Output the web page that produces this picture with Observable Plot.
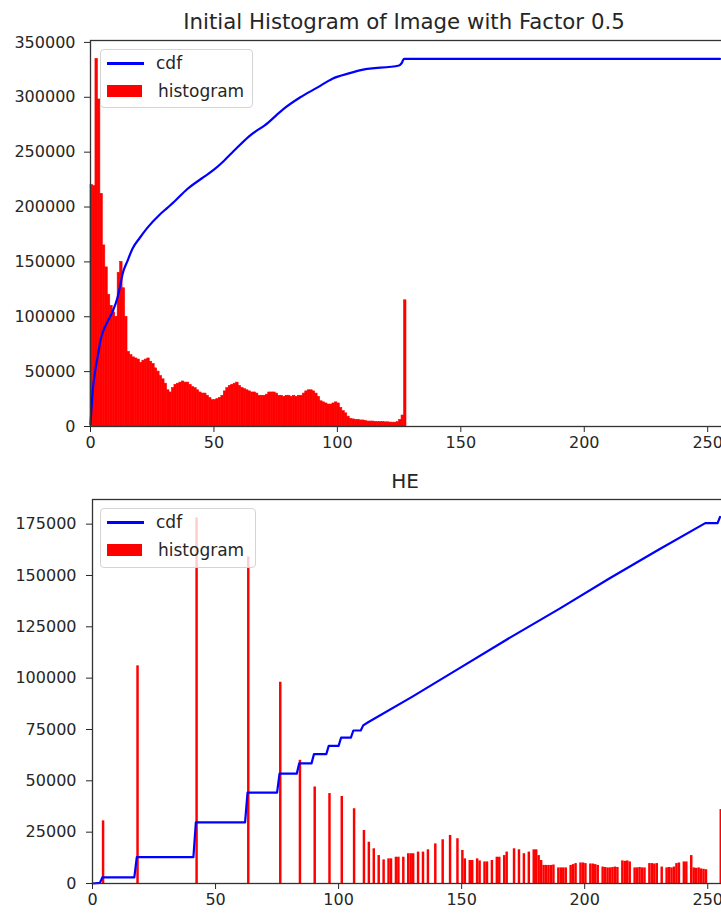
<!DOCTYPE html>
<html>
<head>
<meta charset="utf-8">
<script src="https://cdn.jsdelivr.net/npm/d3@7"></script>
<script src="https://cdn.jsdelivr.net/npm/@observablehq/plot@0.6"></script>
<style>
  body { margin: 0; background: #fff; font-family: "DejaVu Sans", sans-serif; }
  #wrap { position: relative; width: 721px; height: 914px; overflow: hidden; background: #fff; }
  .panel { position: absolute; left: 0; }
  .title { position: absolute; color: #262626; white-space: nowrap; transform: translate(-50%, -50%); }
  .legend { position: absolute; border: 1px solid #d4d4d4; border-radius: 4px; background: rgba(255,255,255,0.8); font-size: 17px; color: #262626; }
  .legend .ln { position: absolute; height: 2.5px; background: #0000ff; }
  .legend .pt { position: absolute; background: #ff0000; }
  .legend .tx { position: absolute; white-space: nowrap; transform: translateY(-50%); }
</style>
</head>
<body>
<div id="wrap"></div>
<script>
// ---------- data: top panel (initial histogram, bins 0..127) ----------
const topHist = [
  220000, 219000, 335000, 298000, 212000, 165000, 145000, 120000, 110000, 104000,
  100000, 140000, 150000, 126000, 100000, 68000, 65000, 63000, 62000, 61000,
  58000, 60000, 61000, 62000, 59000, 57000, 53000, 50000, 46000, 43000,
  39000, 33000, 31000, 35000, 38000, 39000, 40000, 41000, 40000, 40000,
  38000, 36000, 35000, 33000, 31000, 30000, 30000, 28000, 26000, 24000,
  24000, 25000, 26000, 28000, 32000, 35000, 37000, 38000, 39000, 40000,
  37000, 35000, 34000, 33000, 32000, 31000, 31000, 30000, 28000, 28000,
  28000, 29000, 31000, 31000, 31000, 30000, 28000, 28000, 27000, 28000,
  28000, 27000, 28000, 27000, 28000, 28000, 30000, 32000, 33000, 33000,
  32000, 30000, 27000, 23000, 22000, 21000, 20000, 20000, 21000, 22000,
  21000, 17000, 14000, 12000, 9000, 7000, 6500, 6000, 6000, 5500,
  5500, 5000, 4500, 4500, 4500, 4200, 4000, 4000, 4000, 3800,
  3800, 3600, 3500, 3500, 4000, 6000, 10000, 115000
];
const topCdfX = [0, 1, 2, 3, 4, 5, 7, 9, 11, 12, 13, 15, 17, 20, 23, 28, 31, 34, 39, 45, 50, 54, 58, 64, 72, 78, 85, 92, 98, 105, 110, 125, 126, 127, 255];
const topCdfY = [2000, 35000, 52000, 65000, 78000, 86000, 96000, 105000, 118000, 128000, 139000, 151000, 162000, 172000, 181000, 193000, 199000, 205000, 216000, 226000, 234000, 242000, 251000, 264000, 277000, 289000, 300000, 309000, 317000, 322000, 325000, 329000, 331000, 335000, 335000];
const topYTicks = [0, 50000, 100000, 150000, 200000, 250000, 300000, 350000];

// ---------- data: bottom panel (HE) ----------
const heBins = [
  4, 18, 42, 63, 76, 84, 90, 96, 101, 106,
  110, 112, 114, 116, 118, 120, 121, 123, 124, 126,
  128, 129, 130, 132, 134, 136, 139, 142, 145, 148,
  150, 151, 153, 154, 156, 157, 159, 160, 162, 164,
  165, 167, 168, 171, 173, 175, 177, 179, 180, 181,
  182, 183, 184, 185, 186, 187, 189, 190, 191, 192,
  194, 195, 196, 198, 199, 200, 202, 203, 204, 205,
  207, 208, 209, 210, 211, 212, 213, 215, 216, 217,
  218, 220, 221, 222, 223, 224, 226, 227, 228, 229,
  231, 233, 234, 235, 236, 237, 238, 240, 241, 243,
  244, 245, 246, 247, 248, 249, 255
];
const heCounts = [
  30500, 106000, 178000, 159000, 98000, 60000, 47000, 43800, 42400, 36400,
  25800, 20100, 16900, 13600, 11500, 12000, 12000, 12800, 12800, 12800,
  14500, 14500, 14500, 15300, 15300, 16400, 19300, 21300, 23400, 21800,
  16100, 12000, 11200, 11200, 12000, 11000, 10500, 10500, 11200, 12800,
  12800, 13600, 15300, 16900, 16400, 14500, 15300, 16400, 16400, 13600,
  11200, 8800, 8800, 8800, 8800, 9000, 7600, 7600, 7600, 7600,
  8800, 9200, 9700, 10000, 10000, 9700, 9500, 9500, 9200, 8800,
  8000, 7800, 7600, 7600, 7800, 8000, 7800, 11000, 10800, 11000,
  10500, 7600, 7600, 7800, 7600, 7600, 9700, 9700, 9500, 9700,
  8000, 7600, 7800, 7600, 8000, 9700, 10000, 10500, 10500, 13600,
  7600, 7400, 7600, 7100, 6900, 6700, 36000
];
const heCdfX = [0, 3, 4, 17, 18, 41, 42, 62, 63, 75, 76, 83, 84, 89, 90, 95, 96, 100, 101, 105, 106, 109, 110, 112, 130, 150, 170, 190, 210, 230, 249, 254, 255];
const heCdfY = [0, 300, 3000, 3000, 12800, 12800, 29800, 29800, 44300, 44300, 53500, 53500, 58500, 58500, 63000, 63000, 67000, 67000, 71000, 71000, 74500, 74500, 77000, 78500, 91000, 105500, 120000, 134000, 148500, 162500, 175500, 175500, 178500];
const heYTicks = [0, 25000, 50000, 75000, 100000, 125000, 150000, 175000];

const xTicks = [0, 50, 100, 150, 200, 250];

const RED = "#ff0000", BLUE = "#0000ff", INK = "#262626";
const wrap = document.getElementById("wrap");

function panel({hist, xs1, cdfX, cdfY, yDomain, yTicks, top, height, mTop, mBottom, mLeft, pad, seam, curve}) {
  const svg = Plot.plot({
    width: 723,
    height,
    marginLeft: mLeft,
    marginRight: 1,
    marginTop: mTop,
    marginBottom: mBottom,
    x: {domain: [0, 256]},
    y: {domain: yDomain},
    style: {fontFamily: "DejaVu Sans, sans-serif", fontSize: "16px", color: INK, background: "transparent", maxWidth: "none", overflow: "visible"},
    marks: [
      Plot.rect(hist, {
        x1: (d, i) => xs1[i],
        x2: (d, i) => xs1[i] + 1,
        y1: 0,
        y2: d => d,
        fill: RED,
        stroke: seam ? RED : "none",
        strokeWidth: seam ? 0.6 : 0
      }),
      Plot.line(cdfX, {x: cdfX, y: cdfY, stroke: BLUE, strokeWidth: 2.2, curve}),
      Plot.axisX({ticks: xTicks, tickSize: 6, tickPadding: 4, label: null, tickFormat: d => String(d)}),
      Plot.axisY({ticks: yTicks, tickSize: 6, tickPadding: pad, label: null, tickFormat: d => String(d)}),
      Plot.frame({stroke: "#333", strokeWidth: 1.3})
    ]
  });
  const div = document.createElement("div");
  div.className = "panel";
  div.style.top = top + "px";
  div.appendChild(svg);
  wrap.appendChild(div);
}

panel({
  hist: heCounts, xs1: heBins, cdfX: heCdfX, cdfY: heCdfY,
  yDomain: [0, 187000], yTicks: heYTicks, top: 450, height: 464,
  mTop: 49, mBottom: 31, mLeft: 92, pad: 10, seam: false, curve: "linear"
});
panel({
  hist: topHist, xs1: topHist.map((d, i) => i), cdfX: topCdfX, cdfY: topCdfY,
  yDomain: [0, 351750], yTicks: topYTicks, top: 0, height: 450,
  mTop: 40, mBottom: 24, mLeft: 90, pad: 9, seam: true, curve: "monotone-x"
});

function title(text, x, y, size) {
  const t = document.createElement("div");
  t.className = "title";
  t.textContent = text;
  t.style.left = x + "px";
  t.style.top = y + "px";
  t.style.fontSize = size + "px";
  wrap.appendChild(t);
}
title("Initial Histogram of Image with Factor 0.5", 404, 21, 21.3);
title("HE", 405, 481, 20);

function legend(left, top, w, h) {
  const L = document.createElement("div");
  L.className = "legend";
  Object.assign(L.style, {left: left + "px", top: top + "px", width: w + "px", height: h + "px"});
  L.innerHTML =
    '<div class="ln" style="left:6px;top:12px;width:37px"></div>' +
    '<div class="tx" style="left:55px;top:13px">cdf</div>' +
    '<div class="pt" style="left:6px;top:35px;width:35px;height:12px"></div>' +
    '<div class="tx" style="left:57px;top:41px">histogram</div>';
  wrap.appendChild(L);
}
legend(100, 49, 151, 57);
legend(100, 508, 154, 58);
</script>
</body>
</html>
